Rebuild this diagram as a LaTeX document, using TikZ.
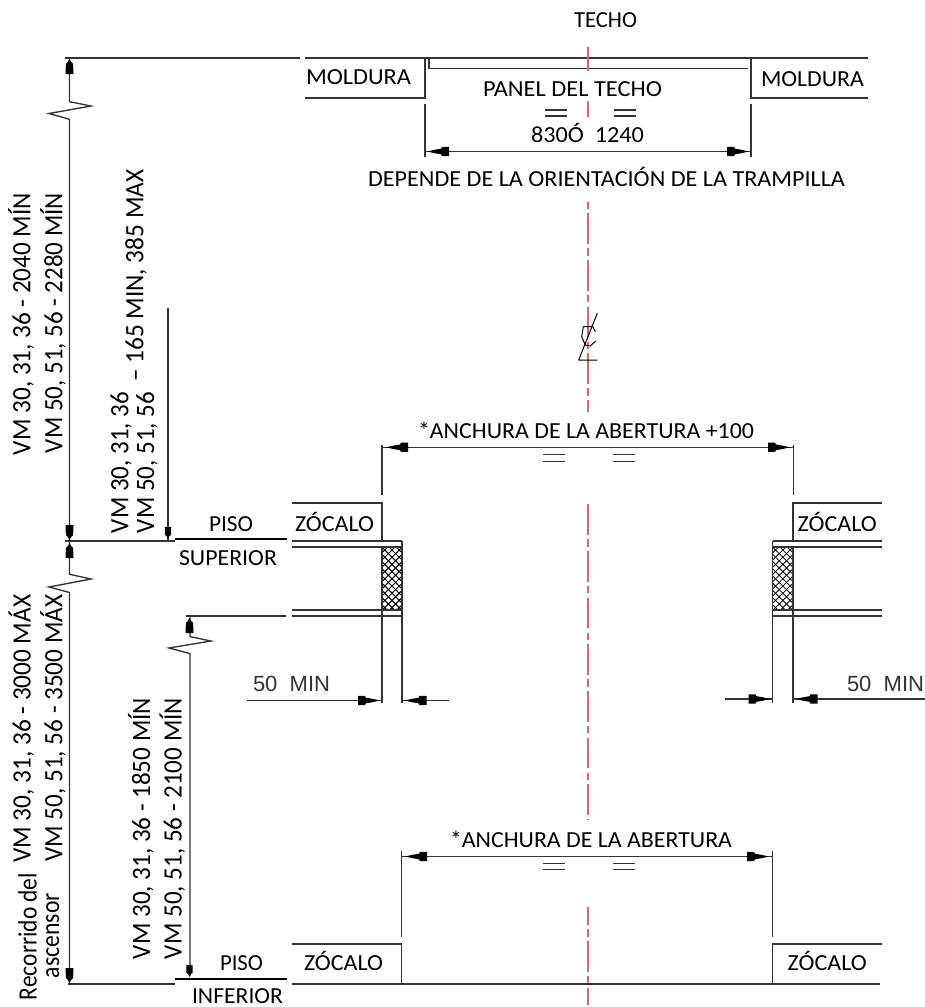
\documentclass[tikz,border=0pt]{standalone}
\usepackage{graphicx}
\usepackage{fontspec}
\setmainfont{Carlito}
\newfontfamily\cadfont{Liberation Sans}
\definecolor{linegray}{HTML}{333333}
\definecolor{axisred}{HTML}{EE5C68}
\newcommand{\fitw}[2]{\resizebox{#1pt}{\height}{#2}}
\tikzset{
  htext/.style={anchor=base west,inner sep=0pt,outer sep=0pt,font=\fontsize{23}{26}\selectfont,text=black},
  vtext/.style={anchor=base west,inner sep=0pt,outer sep=0pt,rotate=90,font=\fontsize{26.5}{30}\selectfont,text=black},
  cadtext/.style={anchor=base west,inner sep=0pt,outer sep=0pt,font=\cadfont\fontsize{22}{26}\selectfont,text=linegray},
  ln/.style={draw=linegray,line width=1.35pt},
  thin ln/.style={draw=linegray,line width=1.1pt},
  thick ln/.style={draw=black,line width=2pt},
  axis ln/.style={draw=axisred,line width=1.7pt,dash pattern=on 30.67pt off 4.33pt on 7.33pt off 4.33pt},
  hhead/.pic={\fill[black] (0,0)--(8,-1.8)--(14,-2.8)--(15,-4.6)--(22,-4.6)--(22,4.6)--(15,4.6)--(14,2.8)--(8,1.8)--cycle;},
  vhead/.pic={\fill[black] (0,0)--(3,-1.6)--(5,-3.6)--(15,-4)--(15,4)--(5,3.6)--(3,1.6)--cycle;},
  shead/.pic={\fill[black] (0,0)--(3,-1.4)--(4,-3)--(12,-3.2)--(12,3.2)--(4,3)--(3,1.4)--cycle;},
}
\begin{document}
\begin{tikzpicture}[x=1pt,y=-1pt]
\useasboundingbox[fill=white] (0,0) rectangle (925,1007);

% ---- ceiling ----
\draw[ln] (65,58) -- (300,58);
\draw[ln] (305,58) -- (868,58);
\draw[ln] (305,98) -- (425,98) -- (425,58);
\draw[ln] (429,58) -- (429,68.5) -- (748,68.5);
\draw[ln] (868,98) -- (751,98) -- (751,58);
% 830/1240 dimension
\draw[thin ln] (425,104) -- (425,157);
\draw[thin ln] (751,104) -- (751,157);
\draw[ln] (425,151.5) -- (751,151.5);
\pic at (427,151.5) {hhead};
\pic[rotate=180] at (749,151.5) {hhead};
\foreach \xa/\xb in {545/567,614/636} {
  \draw[thin ln] (\xa,110) -- (\xb,110);
  \draw[thin ln] (\xa,116) -- (\xb,116);
}

% ---- overall height dimension ----
\draw[ln] (69.5,58) -- (69.5,101.7) -- (91,106) -- (49,113.5) -- (69.5,119.3) -- (69.5,541);
\pic[rotate=-90] at (69.5,59) {vhead};
\pic[rotate=90] at (69.5,540) {vhead};
\draw[ln] (65,541) -- (175,541);
\draw[thick ln] (175,539) -- (287,539);
\draw[ln] (69.5,541) -- (69.5,574.3) -- (91,579) -- (49,587) -- (69.5,592.5) -- (69.5,984);
\pic[rotate=-90] at (69.5,543) {vhead};
\pic[rotate=90] at (69.5,983) {vhead};
\draw[ln] (68,984) -- (175,984);
\draw[thick ln] (175,978.7) -- (287,978.7);
\draw[ln] (292,984) -- (880,984);

% small dims
\draw[thin ln] (168,308) -- (168,541);
\pic[rotate=90] at (168,539) {shead};
\draw[ln] (186,616) -- (286,616);
\draw[ln] (190,616) -- (190,636.6) -- (211,641) -- (169,648) -- (190,653.6) -- (190,976);
\pic[rotate=-90] at (189.5,618) {vhead};
\pic[rotate=90] at (189.5,977) {shead};

% ---- upper landing, left ----
\begin{scope}
  \clip (382,547) rectangle (402,610);
  \foreach \k in {-3,...,14} {
    \draw[black,line width=1pt] (382,540+7.2*\k) -- (402,560+7.2*\k);
    \draw[black,line width=1pt] (382,560+7.2*\k) -- (402,540+7.2*\k);
  }
\end{scope}
\begin{scope}
  \clip (772.7,547) rectangle (793,610);
  \foreach \k in {-3,...,14} {
    \draw[black,line width=0.8pt] (772.7,540+7.2*\k) -- (793,560+7.2*\k);
    \draw[black,line width=0.8pt] (772.7,560+7.2*\k) -- (793,540+7.2*\k);
  }
\end{scope}
\draw[ln] (292,503) -- (382,503) -- (382,541);
\draw[ln] (292,541) -- (402,541);
\draw[ln] (292,547) -- (402,547);
\draw[ln] (292,610) -- (402,610);
\draw[ln] (292,616) -- (402,616);
\draw[ln] (382,547) -- (382,703);
\draw[ln] (402,541) -- (402,703);
\draw[thin ln] (382,445) -- (382,495);
% 50 MIN left
\draw[thin ln] (247,700.5) -- (382,700.5);
\pic[rotate=180] at (380,700.5) {hhead};
\draw[thin ln] (402,700.5) -- (449,700.5);
\pic at (404.5,700.5) {hhead};

% ---- upper landing, right ----
\draw[ln] (882,503) -- (793,503) -- (793,541);
\draw[ln] (882,541) -- (772.7,541);
\draw[ln] (882,547) -- (772.7,547);
\draw[ln] (882,610) -- (772.7,610);
\draw[ln] (882,616) -- (772.7,616);
\draw[ln] (793,547) -- (793,703);
\draw[ln] (772.7,541) -- (772.7,703);
\draw[thin ln] (793.5,445) -- (793.5,495);
% 50 MIN right
\draw[thin ln] (725,699) -- (772.7,699);
\pic[rotate=180] at (770.5,699) {hhead};
\draw[thin ln] (793,699) -- (925,699);
\pic at (795.5,699) {hhead};

% opening +100 dimension
\draw[ln] (382,447.3) -- (793.5,447.3);
\pic at (386,447.3) {hhead};
\pic[rotate=180] at (790,447.3) {hhead};
\foreach \xa/\xb in {543/565,613/635} {
  \draw[thin ln] (\xa,454.5) -- (\xb,454.5);
  \draw[thin ln] (\xa,461.5) -- (\xb,461.5);
}

% ---- lower landing ----
\draw[ln] (292,944) -- (401.5,944) -- (401.5,984);
\draw[ln] (882,944) -- (772.7,944) -- (772.7,984);
\draw[thin ln] (401.5,851) -- (401.5,937);
\draw[thin ln] (772.7,851) -- (772.7,937);
\draw[ln] (401.5,856.5) -- (772.7,856.5);
\pic at (405,856.5) {hhead};
\pic[rotate=180] at (769,856.5) {hhead};
\foreach \xa/\xb in {543/565,613/635} {
  \draw[thin ln] (\xa,863.3) -- (\xb,863.3);
  \draw[thin ln] (\xa,869.3) -- (\xb,869.3);
}

% ---- centre line ----
\draw[draw=axisred,line width=1.7pt] (588,47) -- (588,71);
\draw[draw=axisred,line width=1.7pt] (588,101) -- (588,117);
\draw[axis ln,dash phase=32.33pt] (588,199) -- (588,412);
\draw[axis ln,dash phase=42.33pt] (588,500) -- (588,820);
\draw[axis ln,dash phase=12.7pt] (588,907) -- (588,1005);

% centre line symbol
\draw[black,line width=1pt,line join=round] (597.3,313.3) -- (578.7,360) -- (597.3,360);
\draw[black,line width=1pt,line join=round] (592.7,326.7) -- (583.3,326.7) -- (581.7,336.7) -- (585.3,345) -- (590,346) -- (596,341);
\draw[black,line width=1pt] (592,325) -- (595.3,331.7);

% ---- horizontal texts ----
\node[htext] (techo) at (574,27) {\fitw{63}{TECHO}};
\node[htext] (moldl) at (306,84) {\fitw{105}{MOLDURA}};
\node[htext] (moldr) at (761,86) {\fitw{103}{MOLDURA}};
\node[htext] (panel) at (483,96) {\fitw{179}{PANEL DEL TECHO}};
\node[htext] (dimtop) at (531,142) {\fitw{113}{830Ó\ \ 1240}};
\node[htext] (depende) at (368,186) {\fitw{477}{DEPENDE DE LA ORIENTACIÓN DE LA TRAMPILLA}};
\node[htext] (anchb) at (418,438) {\fitw{336}{*ANCHURA DE LA ABERTURA +100}};
\node[htext] (ancha) at (450,847) {\fitw{282}{*ANCHURA DE LA ABERTURA}};
\node[htext] (zul) at (295,531.7) {\fitw{79}{ZÓCALO}};
\node[htext] (zur) at (797.7,531.7) {\fitw{79}{ZÓCALO}};
\node[htext] (zll) at (304,970.7) {\fitw{79}{ZÓCALO}};
\node[htext] (zlr) at (787.7,970.7) {\fitw{79}{ZÓCALO}};
\node[htext] (pisou) at (209,531.7) {\fitw{44}{PISO}};
\node[htext] (super) at (179,565) {\fitw{98}{SUPERIOR}};
\node[htext] (pisol) at (220,970.7) {\fitw{43}{PISO}};
\node[htext] (infer) at (192,1003) {\fitw{91}{INFERIOR}};
\node[cadtext] (minl) at (253,691) {50\ \ MIN};
\node[cadtext] (minr) at (847,691) {50\ \ MIN};

% ---- rotated texts ----
\node[vtext] (va) at (30.5,455) {\fitw{262}{VM 30, 31, 36 - 2040 MÍN}};
\node[vtext] (vb) at (62.3,453) {\fitw{260}{VM 50, 51, 56 - 2280 MÍN}};
\node[vtext] (vc) at (128.3,533) {\fitw{141}{VM 30, 31, 36}};
\node[vtext] (vd) at (154,533) {\fitw{141}{VM 50, 51, 56}};
\node[vtext] (ve) at (143.3,381.7) {\fitw{212}{– 165 MIN, 385 MAX}};
\node[vtext] (vf) at (30.7,862.7) {\fitw{268}{VM 30, 31, 36 - 3000 MÁX}};
\node[vtext] (vg) at (62.3,861.7) {\fitw{267}{VM 50, 51, 56 - 3500 MÁX}};
\node[vtext] (vh) at (36.7,1000) {\fitw{127}{Recorrido del}};
\node[vtext] (vi) at (59,978) {\fitw{85}{ascensor}};
\node[vtext] (vj) at (150,959) {\fitw{261}{VM 30, 31, 36 - 1850 MÍN}};
\node[vtext] (vk) at (181.7,959) {\fitw{261}{VM 50, 51, 56 - 2100 MÍN}};
\end{tikzpicture}
\end{document}
